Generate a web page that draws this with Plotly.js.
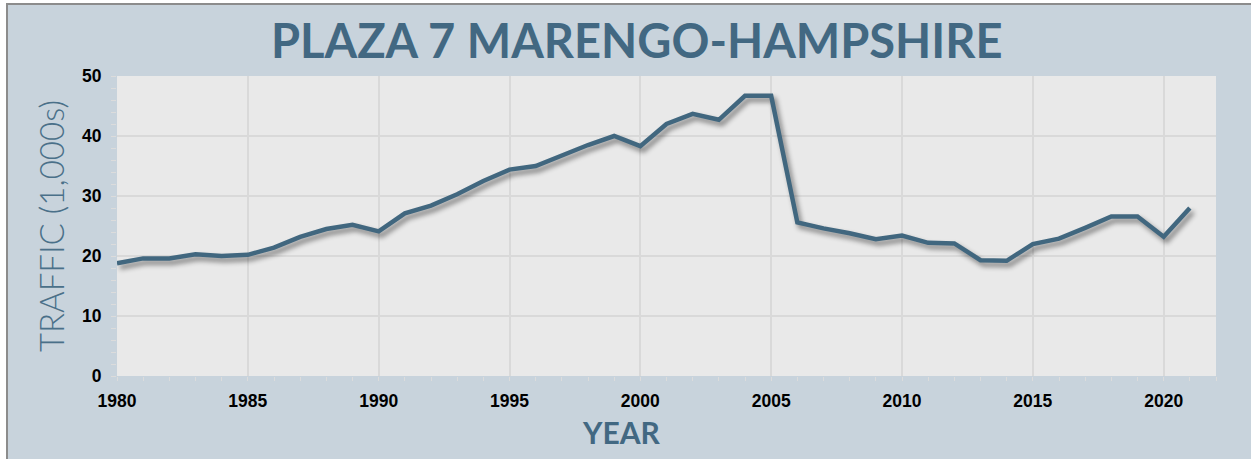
<!DOCTYPE html>
<html>
<head>
<meta charset="utf-8">
<script src="https://cdn.plot.ly/plotly-3.0.1.min.js"></script>
<style>
  html, body { margin: 0; padding: 0; background: #ffffff; width: 1251px; height: 459px; overflow: hidden; }
  #frame { position: absolute; left: 6px; top: 3px; width: 1245px; height: 456px;
           border-left: 2px solid #8c8c8c; border-top: 2px solid #8c8c8c; background: #c8d3dc; }
  #chart { width: 1243px; height: 454px; }
  #chart .scatterlayer path.js-line { filter: drop-shadow(3px 4px 2.5px rgba(0,0,0,0.45)); }
</style>
</head>
<body>
<div id="frame"><div id="chart"></div></div>
<script>
const years = [1980,1981,1982,1983,1984,1985,1986,1987,1988,1989,
               1990,1991,1992,1993,1994,1995,1996,1997,1998,1999,
               2000,2001,2002,2003,2004,2005,2006,2007,2008,2009,
               2010,2011,2012,2013,2014,2015,2016,2017,2018,2019,
               2020,2021];
const traffic = [18.8,19.6,19.6,20.3,20.0,20.2,21.4,23.2,24.5,25.2,
                 24.1,27.1,28.4,30.3,32.5,34.4,35.0,36.8,38.5,40.0,
                 38.3,42.0,43.7,42.7,46.7,46.7,25.6,24.6,23.8,22.8,
                 23.4,22.2,22.1,19.3,19.2,22.0,22.9,24.7,26.6,26.6,
                 23.2,28.0];
const xTickVals = [1980,1985,1990,1995,2000,2005,2010,2015,2020];
const yTickVals = [0,10,20,30,40,50];
const chartTitle = "PLAZA 7 MARENGO-HAMPSHIRE";
const xTitle = "YEAR";
const yTitle = "TRAFFIC (1,000s)";

const accent = "#426882";

const trace = {
  x: years, y: traffic, type: "scatter", mode: "lines",
  line: { color: "#41677f", width: 4.5, shape: "linear" },
  hoverinfo: "skip"
};

const tickFont = { family: "Liberation Sans, Arial, sans-serif", size: 17.5, color: "#000000", weight: "bold" };

const layout = {
  width: 1243, height: 454,
  margin: { l: 109, r: 35, t: 71, b: 83 },
  paper_bgcolor: "#c8d3dc",
  plot_bgcolor: "#e9e9e9",
  showlegend: false,
  xaxis: {
    range: [1980, 2022], tickvals: xTickVals, ticktext: xTickVals.map(String),
    showgrid: true, gridcolor: "#d9d9d9", gridwidth: 2,
    zeroline: false, showline: false,
    ticks: "outside", ticklen: 4, tickcolor: "#dcdcdc", tickwidth: 1,
    minor: { dtick: 1, ticks: "outside", ticklen: 4, tickcolor: "#dcdcdc", showgrid: false },
    tickfont: tickFont, ticklabelstandoff: 5
  },
  yaxis: {
    range: [0, 50], tickvals: yTickVals, ticktext: yTickVals.map(String),
    showgrid: true, gridcolor: "#d9d9d9", gridwidth: 2,
    zeroline: false, showline: false,
    ticks: "outside", ticklen: 5, tickcolor: "#dcdcdc", tickwidth: 1,
    minor: { dtick: 2, ticks: "outside", ticklen: 5, tickcolor: "#dcdcdc", showgrid: false },
    tickfont: tickFont, ticklabelstandoff: 6
  },
  annotations: [
    { text: chartTitle, xref: "paper", yref: "paper", x: 0.473, y: 1.12,
      xanchor: "center", yanchor: "middle", showarrow: false,
      font: { family: "Lato, sans-serif", size: 47, color: accent, weight: "bold" } },
    { text: xTitle, xref: "paper", yref: "paper", x: 0.4595, y: -0.187,
      xanchor: "center", yanchor: "middle", showarrow: false,
      font: { family: "Lato, sans-serif", size: 30, color: accent, weight: "bold" } },
    { text: yTitle, xref: "paper", yref: "paper", x: -0.06, y: 0.5,
      xanchor: "center", yanchor: "middle", showarrow: false, textangle: -90,
      font: { family: "Lato, sans-serif", size: 33, color: "#4a7089", weight: 300 } }
  ]
};

Plotly.newPlot("chart", [trace], layout, { displayModeBar: false, staticPlot: true });
</script>
</body>
</html>
